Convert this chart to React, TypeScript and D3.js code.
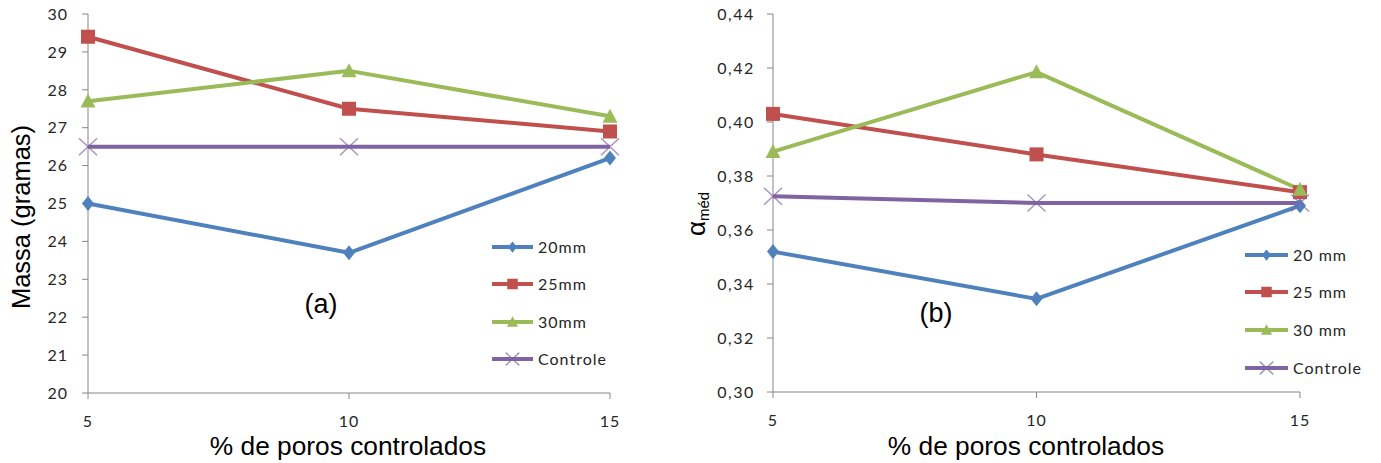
import React from "react";
import * as d3 from "d3";

const categories = [5, 10, 15];
const seriesNamesA = ["20mm", "25mm", "30mm", "Controle"];
const seriesNamesB = ["20 mm", "25 mm", "30 mm", "Controle"];
const massa20 = [25.0, 23.7, 26.2];
const massa25 = [29.4, 27.5, 26.9];
const massa30 = [27.7, 28.5, 27.3];
const massaCtrl = [26.5, 26.5, 26.5];
const alpha20 = [0.352, 0.3345, 0.369];
const alpha25 = [0.403, 0.388, 0.374];
const alpha30 = [0.389, 0.4185, 0.375];
const alphaCtrl = [0.3725, 0.370, 0.370];
const ticksA = [20, 21, 22, 23, 24, 25, 26, 27, 28, 29, 30];
const ticksB = [0.30, 0.32, 0.34, 0.36, 0.38, 0.40, 0.42, 0.44];

const colors = ["#4F81BD", "#C0504D", "#9BBB59", "#8064A2"];
const markers = ["diamond", "square", "triangle", "x"];
const tickFont = "Lato, 'Open Sans', sans-serif";
const titleFont = "'Liberation Sans', Arial, sans-serif";

function Marker({ type, x, y, color, scale = 1 }: { type: string; x: number; y: number; color: string; scale?: number }) {
  if (type === "diamond") {
    const w = 6 * scale;
    const h = 7.5 * scale;
    return <path d={`M${x},${y - h}L${x + w},${y}L${x},${y + h}L${x - w},${y}Z`} fill={color} />;
  }
  if (type === "square") {
    const s = 7 * scale;
    return <rect x={x - s} y={y - s} width={2 * s} height={2 * s} fill={color} />;
  }
  if (type === "triangle") {
    const w = 7.5 * scale;
    const h = 7 * scale;
    return <path d={`M${x},${y - h * 1.1}L${x + w},${y + h * 0.9}L${x - w},${y + h * 0.9}Z`} fill={color} />;
  }
  const w = 9 * scale;
  const h = 8.5 * scale;
  return (
    <path d={`M${x - w},${y - h}L${x + w},${y + h}M${x - w},${y + h}L${x + w},${y - h}`} stroke={color} strokeWidth={1.4} opacity={0.7} />
  );
}

type PanelProps = {
  left: number;
  right: number;
  top: number;
  bottom: number;
  domain: [number, number];
  ticks: number[];
  fmt: (v: number) => string;
  tickGap: number;
  tickSpacing: number;
  series: number[][];
  names: string[];
  legendX: number;
  legendY: number[];
  legendLen: number;
  label: string;
  labelX: number;
  labelY: number;
  titleX: number;
};

function Panel(p: PanelProps) {
  const x = d3.scaleLinear().domain([5, 15]).range([p.left, p.right]);
  const y = d3.scaleLinear().domain(p.domain).range([p.bottom, p.top]);
  const line = d3
    .line<number>()
    .x((_, i) => x(categories[i]))
    .y((d) => y(d));
  const axisColor = "#868686";
  return (
    <g>
      <line x1={p.left} x2={p.left} y1={p.top} y2={p.bottom} stroke={axisColor} strokeWidth={1} />
      {p.ticks.map((t) => (
        <g key={t}>
          <line x1={p.left - 6} x2={p.left} y1={y(t)} y2={y(t)} stroke={axisColor} />
          <text x={p.left - p.tickGap} y={y(t)} dy="0.36em" textAnchor="end" fontFamily={tickFont} fontSize={16} letterSpacing={p.tickSpacing} fill="#262626">
            {p.fmt(t)}
          </text>
        </g>
      ))}
      <line x1={p.left} x2={p.right} y1={p.bottom} y2={p.bottom} stroke={axisColor} />
      {categories.map((c) => (
        <g key={c}>
          <line x1={x(c)} x2={x(c)} y1={p.bottom} y2={p.bottom + 6} stroke={axisColor} />
          <text x={x(c)} y={p.bottom + 28} dy="0.36em" textAnchor="middle" fontFamily={tickFont} fontSize={16} letterSpacing={1} fill="#262626">
            {c}
          </text>
        </g>
      ))}
      <text x={p.titleX} y={455} textAnchor="middle" fontFamily={titleFont} fontSize={26.3} fill="#000">
        % de poros controlados
      </text>
      {p.series.map((s, i) => (
        <path key={i} d={line(s) || ""} fill="none" stroke={colors[i]} strokeWidth={4} strokeLinejoin="round" />
      ))}
      {p.series.map((s, i) =>
        s.map((v, j) => <Marker key={`${i}-${j}`} type={markers[i]} x={x(categories[j])} y={y(v)} color={colors[i]} />)
      )}
      {p.names.map((n, i) => (
        <g key={n}>
          <line x1={p.legendX} x2={p.legendX + p.legendLen} y1={p.legendY[i]} y2={p.legendY[i]} stroke={colors[i]} strokeWidth={4} />
          <Marker type={markers[i]} x={p.legendX + p.legendLen / 2} y={p.legendY[i]} color={colors[i]} scale={0.75} />
          <text x={p.legendX + p.legendLen + 5} y={p.legendY[i]} dy="0.36em" fontFamily={tickFont} fontSize={16} letterSpacing={1} fill="#262626">
            {n}
          </text>
        </g>
      ))}
      <text x={p.labelX} y={p.labelY} textAnchor="middle" fontFamily={titleFont} fontSize={27} fill="#000">
        {p.label}
      </text>
    </g>
  );
}

export default function App() {
  const fmtB = (v: number) => d3.format(".2f")(v).replace(".", ",");
  return (
    <svg width={1381} height={463} style={{ position: "absolute", left: 0, top: 0, background: "#fff" }}>
      <rect width={1381} height={463} fill="#fff" />
      <Panel
        left={88}
        right={610}
        top={14}
        bottom={393}
        domain={[20, 30]}
        ticks={ticksA}
        fmt={(v) => String(v)}
        tickGap={20}
        tickSpacing={1}
        series={[massa20, massa25, massa30, massaCtrl]}
        names={seriesNamesA}
        legendX={492}
        legendY={[247, 284, 322, 359]}
        legendLen={41}
        label="(a)"
        labelX={321}
        labelY={313}
        titleX={348}
      />
      <text transform="translate(30,217) rotate(-90)" textAnchor="middle" fontFamily={titleFont} fontSize={25.5} fill="#000">
        Massa (gramas)
      </text>
      <Panel
        left={773}
        right={1300}
        top={14}
        bottom={392}
        domain={[0.3, 0.44]}
        ticks={ticksB}
        fmt={fmtB}
        tickGap={18}
        tickSpacing={1.6}
        series={[alpha20, alpha25, alpha30, alphaCtrl]}
        names={seriesNamesB}
        legendX={1245}
        legendY={[255, 292, 330, 368]}
        legendLen={43}
        label="(b)"
        labelX={936}
        labelY={322}
        titleX={1026}
      />
      <text transform="translate(705,214) rotate(-90)" textAnchor="middle" fontFamily={titleFont} fill="#000">
        <tspan fontSize={26}>α</tspan>
        <tspan fontSize={15} dy={4}>méd</tspan>
      </text>
    </svg>
  );
}
